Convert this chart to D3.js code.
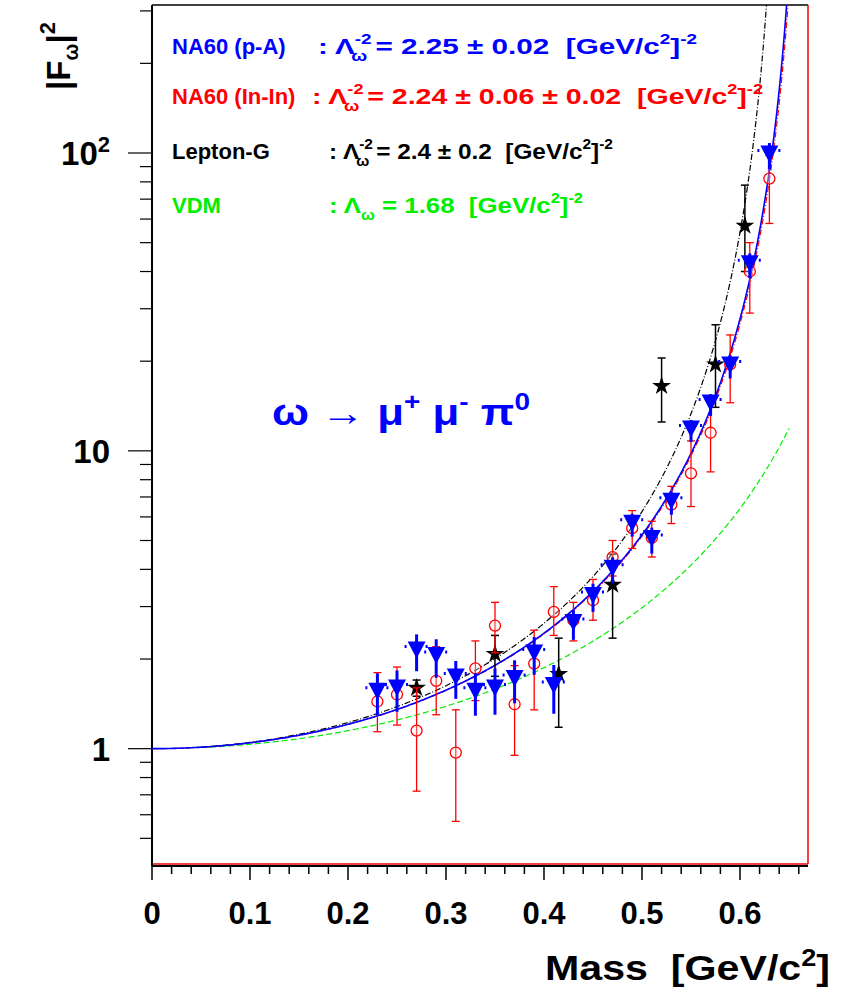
<!DOCTYPE html>
<html><head><meta charset="utf-8">
<script src="https://cdn.jsdelivr.net/npm/d3@7"></script>
<style>body{margin:0;background:#fff}text{font-family:Arial,"Liberation Sans",sans-serif;font-weight:bold;white-space:pre}</style>
</head><body>
<script>
// NA60 p-A (blue triangles): mass, value, error
var paMass = [0.23,0.25,0.27,0.29,0.31,0.33,0.35,0.37,0.39,0.41,0.43,0.45,0.47,0.49,0.51,0.53,0.55,0.57,0.59,0.61,0.63];
var paVal  = [1.54,1.58,2.12,2.03,1.72,1.54,1.58,1.70,2.07,1.61,2.62,3.23,3.99,5.65,5.02,6.7,11.7,14.3,19.2,42,98];
var paErr  = [0.25,0.25,0.3,0.3,0.25,0.25,0.28,0.28,0.3,0.3,0.3,0.35,0.4,0.5,0.5,0.6,1.0,1.2,1.7,4,10];
// NA60 In-In (red circles)
var inMass = [0.23,0.25,0.27,0.29,0.31,0.33,0.35,0.37,0.39,0.41,0.43,0.45,0.47,0.49,0.51,0.53,0.55,0.57,0.59,0.61,0.63];
var inVal  = [1.44,1.52,1.15,1.69,0.97,1.86,2.59,1.41,1.93,2.88,2.7,3.15,4.4,5.5,5.1,6.6,8.4,11.5,19.5,40,82];
var inLo   = [1.14,1.2,0.72,1.3,0.57,1.45,2.1,0.95,1.35,2.4,2.3,2.7,3.8,4.7,4.4,5.7,6.5,8.5,14.5,29,58];
var inHi   = [1.8,1.88,1.6,2.2,1.35,2.3,3.1,1.9,2.5,3.5,3.1,3.7,5.0,6.3,5.8,7.6,10.8,15,24.5,50,98];
// Lepton-G (black stars)
var lgMass = [0.27,0.35,0.415,0.47,0.52,0.575,0.605];
var lgVal  = [1.6,2.08,1.78,3.55,16.5,19.5,57];
var lgLo   = [1.5,1.75,1.18,2.35,12.5,14,40];
var lgHi   = [1.7,2.4,2.35,4.5,20.5,26.5,78];
// model curves: Lambda^-2 values and mass ranges
var curveName  = ["pA","InIn","LeptonG","VDM"];
var curveL2    = [2.25,2.24,2.4,1.68];
var curveStart = [0,0,0.05,0.05];
var curveEnd   = [0.668,0.668,0.645,0.65];
var curveColor = ["#0000ff","#ff0000","#000000","#00ee00"];
var curveDash  = [null,"6,2,1,2","6,2,1,2","6,3"];
var xTicks = [0,0.1,0.2,0.3,0.4,0.5,0.6];

var W = 851, H = 991;
var svg = d3.select("body").append("svg").attr("width", W).attr("height", H);
var x = d3.scaleLinear().domain([0, 0.6694]).range([152, 808]);
var y = d3.scaleLog().domain([0.41, 314]).range([864, 5]);

// frame
svg.append("line").attr("x1",152).attr("x2",808).attr("y1",5).attr("y2",5).attr("stroke","#000").attr("stroke-width",1.5);
svg.append("line").attr("x1",808).attr("x2",808).attr("y1",5).attr("y2",864).attr("stroke","#e00").attr("stroke-width",1.5);
svg.append("line").attr("x1",152).attr("x2",808).attr("y1",864).attr("y2",864).attr("stroke","#e00").attr("stroke-width",1.5);

// x axis
var xa = svg.append("g").attr("transform","translate(0,866)");
xa.append("line").attr("x1",152).attr("x2",808).attr("stroke","#000").attr("stroke-width",2);
d3.range(0, 0.661, 0.02).forEach(function(v){
  var major = Math.abs(v*10 - Math.round(v*10)) < 1e-6;
  xa.append("line").attr("x1",x(v)).attr("x2",x(v)).attr("y1",0).attr("y2",major?14:8).attr("stroke","#000").attr("stroke-width",1.5);
});
xTicks.forEach(function(v){
  xa.append("text").attr("x",x(v)).attr("y",58).attr("text-anchor","middle").attr("font-size",31).text(v===0?"0":String(v));
});
svg.append("text").attr("x",545).attr("y",980).attr("font-size",35).attr("textLength",285).attr("lengthAdjust","spacingAndGlyphs")
  .html('Mass  [GeV/c<tspan dy="-14" font-size="23">2</tspan><tspan dy="14">]</tspan>');

// y axis
var ya = svg.append("g");
ya.append("line").attr("x1",152).attr("x2",152).attr("y1",5).attr("y2",866).attr("stroke","#000").attr("stroke-width",2);
[0.5,0.6,0.7,0.8,0.9,1,2,3,4,5,6,7,8,9,10,20,30,40,50,60,70,80,90,100,200,300].forEach(function(v){
  var major = (v===1||v===10||v===100);
  ya.append("line").attr("x1",152).attr("x2",major?128:140).attr("y1",y(v)).attr("y2",y(v)).attr("stroke","#000").attr("stroke-width",1.2);
});
ya.append("text").attr("x",110).attr("y",y(1)+12).attr("text-anchor","end").attr("font-size",33).text("1");
ya.append("text").attr("x",110).attr("y",y(10)+12).attr("text-anchor","end").attr("font-size",33).text("10");
ya.append("text").attr("x",110).attr("y",y(100)+12).attr("text-anchor","end").attr("font-size",33)
  .html('10<tspan dy="-13" font-size="22">2</tspan>');
svg.append("text").attr("transform","translate(70,56) rotate(-90)").attr("text-anchor","middle").attr("font-size",33)
  .html('|F<tspan dy="8" font-size="20">ω</tspan><tspan dy="-8">|</tspan><tspan dy="-15" font-size="22">2</tspan>');

// curves
var line = d3.line().x(function(d){return x(d[0]);}).y(function(d){return y(d[1]);});
svg.append("clipPath").attr("id","clip").append("rect").attr("x",152).attr("y",5).attr("width",656).attr("height",859);
var cg = svg.append("g").attr("clip-path","url(#clip)");
[3,2,1,0].forEach(function(i){
  var pts = [];
  for (var m = curveStart[i]; m <= curveEnd[i] + 1e-9; m += 0.0015) {
    var f = 1 - m*m*curveL2[i];
    pts.push([m, 1/(f*f)]);
  }
  cg.append("path").datum(pts).attr("d", line).attr("fill","none")
    .attr("stroke", curveColor[i]).attr("stroke-width", i===0?1.6:1.2)
    .attr("stroke-dasharray", curveDash[i]);
});

// Lepton-G points
lgMass.forEach(function(m,i){
  var px = x(m);
  svg.append("line").attr("x1",px).attr("x2",px).attr("y1",y(lgLo[i])).attr("y2",y(lgHi[i])).attr("stroke","#000").attr("stroke-width",1.5);
  [lgLo[i],lgHi[i]].forEach(function(v){
    svg.append("line").attr("x1",px-4).attr("x2",px+4).attr("y1",y(v)).attr("y2",y(v)).attr("stroke","#000").attr("stroke-width",1.5);
  });
  svg.append("path").attr("d", d3.symbol(d3.symbolStar, 110)()).attr("transform","translate("+px+","+y(lgVal[i])+")").attr("fill","#000");
});

// In-In points
inMass.forEach(function(m,i){
  var px = x(m);
  svg.append("line").attr("x1",px).attr("x2",px).attr("y1",y(inLo[i])).attr("y2",y(inHi[i])).attr("stroke","#f00").attr("stroke-width",1.3);
  [inLo[i],inHi[i]].forEach(function(v){
    svg.append("line").attr("x1",px-4).attr("x2",px+4).attr("y1",y(v)).attr("y2",y(v)).attr("stroke","#f00").attr("stroke-width",1.3);
  });
  svg.append("circle").attr("cx",px).attr("cy",y(inVal[i])).attr("r",5.5).attr("fill","#fff").attr("fill-opacity",0.3).attr("stroke","#f00").attr("stroke-width",1.3);
});

// p-A points
paMass.forEach(function(m,i){
  var px = x(m), py = y(paVal[i]);
  svg.append("line").attr("x1",px).attr("x2",px).attr("y1",y(paVal[i]-paErr[i])).attr("y2",y(paVal[i]+paErr[i])).attr("stroke","#00f").attr("stroke-width",3);
  svg.append("line").attr("x1",px-12).attr("x2",px+12).attr("y1",py-5).attr("y2",py-5).attr("stroke","#00f").attr("stroke-width",3).attr("stroke-dasharray","2,5");
  svg.append("path").attr("d","M"+(px-9)+","+(py-10)+"L"+(px+9)+","+(py-10)+"L"+px+","+(py+7)+"Z").attr("fill","#00f");
});

// legend
function lam(sup){
  return sup ? 'Λ<tspan dy="-10" font-size="14">-2</tspan><tspan dy="17" dx="-15" font-size="14">ω</tspan><tspan dy="-7">'
             : 'Λ<tspan dy="7" font-size="14">ω</tspan><tspan dy="-7">';
}
var unit = '[GeV/c</tspan><tspan dy="-10" font-size="14">2</tspan><tspan dy="10">]</tspan><tspan dy="-10" font-size="14">-2</tspan>';
var leg = [
  {c:"#0000ff", n:"NA60 (p-A)", t:': '+lam(1)+' = 2.25 ± 0.02  '+unit, x:318, y:54, w:379},
  {c:"#ff0000", n:"NA60 (In-In)", t:': '+lam(1)+' = 2.24 ± 0.06 ± 0.02  '+unit, x:312, y:104, w:451},
  {c:"#000000", n:"Lepton-G", t:': '+lam(1)+' = 2.4 ± 0.2  '+unit, x:329, y:159, w:284},
  {c:"#00ee00", n:"VDM", t:': '+lam(0)+' = 1.68  '+unit, x:329, y:213, w:254}
];
leg.forEach(function(d){
  svg.append("text").attr("x",172).attr("y",d.y).attr("font-size",22).attr("fill",d.c).text(d.n);
  svg.append("text").attr("x",d.x).attr("y",d.y).attr("font-size",22).attr("fill",d.c)
    .attr("textLength",d.w).attr("lengthAdjust","spacingAndGlyphs").html(d.t);
});
svg.append("text").attr("x",272).attr("y",425).attr("font-size",36).attr("fill","#0000ff")
  .attr("textLength",258).attr("lengthAdjust","spacingAndGlyphs")
  .html('ω → μ<tspan dy="-15" font-size="23">+</tspan><tspan dy="15"> μ</tspan><tspan dy="-15" font-size="23">-</tspan><tspan dy="15"> π</tspan><tspan dy="-15" font-size="23">0</tspan>');
</script>
</body></html>
